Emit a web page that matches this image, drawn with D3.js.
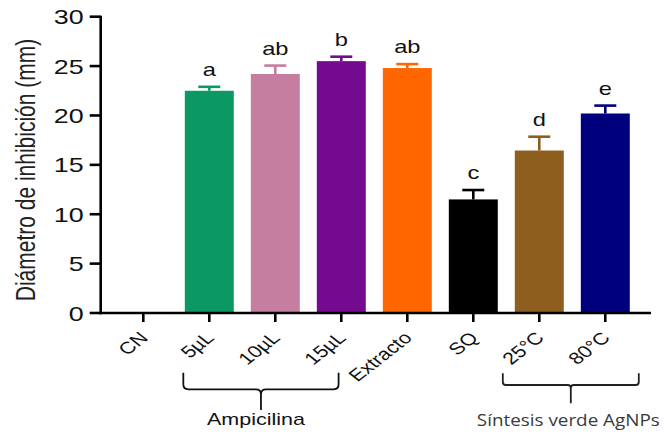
<!DOCTYPE html>
<html>
<head>
<meta charset="utf-8">
<script src="https://cdn.jsdelivr.net/npm/d3@7"></script>
<style>
  html, body { margin: 0; padding: 0; background: #fff; }
  svg { display: block; }
  text { font-family: "Liberation Sans", Arial, Helvetica, sans-serif; }
</style>
</head>
<body>
<svg id="chart" width="665" height="433"></svg>
<script>
// Inhibition halo diameter per treatment
const categories = ["CN", "5µL", "10µL", "15µL", "Extracto", "SQ", "25°C", "80°C"];
const means      = [0, 22.5, 24.2, 25.5, 24.8, 11.5, 16.45, 20.2];
const errors     = [0, 0.4, 0.85, 0.45, 0.4, 0.95, 1.4, 0.8];
const letters    = ["", "a", "ab", "b", "ab", "c", "d", "e"];
const colors     = ["#ffffff", "#0b9862", "#c57da0", "#740a8f", "#ff6600", "#000000", "#8e5e1f", "#00007f"];
const yTicks     = [0, 5, 10, 15, 20, 25, 30];
const groups = [
  { label: "Ampicilina", from: "5µL", to: "15µL" },
  { label: "Síntesis verde AgNPs", from: "25°C", to: "80°C" }
];

const data = categories.map((c, i) => ({ cat: c, mean: means[i], err: errors[i], letter: letters[i], color: colors[i] }));

const svg = d3.select("#chart");
const SX = 1.28; // horizontal glyph stretch used for all labels

const x = d3.scaleBand()
  .domain(categories)
  .range([110.3, 638.3])
  .paddingInner(0.258)
  .paddingOuter(0.129);

const y = d3.scaleLinear().domain([0, 30]).range([313, 16.7]);

const axisX0 = 100.7, axisX1 = 651;

// Bars
svg.append("g").selectAll("rect")
  .data(data.filter(d => d.mean > 0))
  .join("rect")
  .attr("x", d => x(d.cat))
  .attr("width", x.bandwidth())
  .attr("y", d => y(d.mean))
  .attr("height", d => y(0) - y(d.mean))
  .attr("fill", d => d.color);

// Error bars (upper whisker only)
const capW = 22;
const eb = svg.append("g").attr("stroke-width", 2.6).attr("fill", "none");
data.filter(d => d.err > 0).forEach(d => {
  const cx = x(d.cat) + x.bandwidth() / 2;
  eb.append("line")
    .attr("x1", cx).attr("x2", cx)
    .attr("y1", y(d.mean)).attr("y2", y(d.mean + d.err))
    .attr("stroke", d.color);
  eb.append("line")
    .attr("x1", cx - capW / 2).attr("x2", cx + capW / 2)
    .attr("y1", y(d.mean + d.err)).attr("y2", y(d.mean + d.err))
    .attr("stroke", d.color);
});

// Significance letters
svg.append("g").selectAll("text")
  .data(data.filter(d => d.letter))
  .join("text")
  .attr("transform", d => `translate(${x(d.cat) + x.bandwidth() / 2},${y(d.mean + d.err) - 11}) scale(${SX},1)`)
  .attr("text-anchor", "middle")
  .attr("font-size", 18.5)
  .attr("fill", "#111")
  .text(d => d.letter);

// Y axis
const yAxis = svg.append("g");
yAxis.append("line")
  .attr("x1", axisX0).attr("x2", axisX0)
  .attr("y1", y(30) - 1).attr("y2", y(0) + 1.3)
  .attr("stroke", "#000").attr("stroke-width", 2.6);
yTicks.forEach(t => {
  yAxis.append("line")
    .attr("x1", axisX0 - 11).attr("x2", axisX0)
    .attr("y1", y(t)).attr("y2", y(t))
    .attr("stroke", "#000").attr("stroke-width", 2.6);
  yAxis.append("text")
    .attr("transform", `translate(${axisX0 - 17},${y(t)}) scale(${SX},1)`)
    .attr("text-anchor", "end")
    .attr("dy", "0.36em")
    .attr("font-size", 21)
    .attr("fill", "#111")
    .text(t);
});

// X axis
const xAxis = svg.append("g");
xAxis.append("line")
  .attr("x1", axisX0 - 1.3).attr("x2", axisX1)
  .attr("y1", y(0)).attr("y2", y(0))
  .attr("stroke", "#000").attr("stroke-width", 2.6);
categories.forEach(c => {
  const cx = x(c) + x.bandwidth() / 2;
  xAxis.append("line")
    .attr("x1", cx).attr("x2", cx)
    .attr("y1", y(0)).attr("y2", y(0) + 9)
    .attr("stroke", "#000").attr("stroke-width", 2.6);
  xAxis.append("text")
    .attr("transform", `translate(${cx + 6},339) scale(${SX},1) rotate(-45)`)
    .attr("text-anchor", "end")
    .attr("font-size", 16.8)
    .attr("fill", "#111")
    .text(c);
});

// Y axis title
svg.append("text")
  .attr("transform", `translate(35,170) scale(${SX},1) rotate(-90)`)
  .attr("text-anchor", "middle")
  .attr("font-size", 21)
  .attr("fill", "#222")
  .text("Diámetro de inhibición (mm)");

// Group braces under the axis
function brace(x0, x1, top, mid, bottom, r) {
  const cx = (x0 + x1) / 2;
  return `M${x0},${top} L${x0},${mid - r} Q${x0},${mid} ${x0 + r},${mid}` +
         ` L${cx - r},${mid} Q${cx},${mid} ${cx},${mid + r} L${cx},${bottom}` +
         ` M${cx},${mid + r} Q${cx},${mid} ${cx + r},${mid}` +
         ` L${x1 - r},${mid} Q${x1},${mid} ${x1},${mid - r} L${x1},${top}`;
}

const g0 = groups[0], g1 = groups[1];
const a0 = x(g0.from) - 1.5, a1 = x(g0.to) + x.bandwidth() / 2 - 2.7;
svg.append("path")
  .attr("d", brace(a0, a1, 372.7, 389.3, 410, 5))
  .attr("fill", "none").attr("stroke", "#111").attr("stroke-width", 1.8);
svg.append("text")
  .attr("transform", `translate(${(a0 + a1) / 2 - 5},425) scale(${SX},1)`)
  .attr("text-anchor", "middle")
  .attr("font-size", 16.8)
  .attr("fill", "#111")
  .text(g0.label);

const b0 = x(g1.from) - 12, b1 = x(g1.to) + x.bandwidth() + 9;
svg.append("path")
  .attr("d", brace(b0, b1, 373.3, 385, 403.3, 3))
  .attr("fill", "none").attr("stroke", "#222").attr("stroke-width", 1.8);
svg.append("text")
  .attr("transform", `translate(568.3,426) scale(1.2,1)`)
  .attr("text-anchor", "middle")
  .style("font-family", "'Open Sans', 'Noto Sans', sans-serif")
  .attr("font-size", 15.5)
  .attr("textLength", 183 / 1.2)
  .attr("lengthAdjust", "spacingAndGlyphs")
  .attr("fill", "#3a3a3a")
  .text(g1.label);
</script>
</body>
</html>
